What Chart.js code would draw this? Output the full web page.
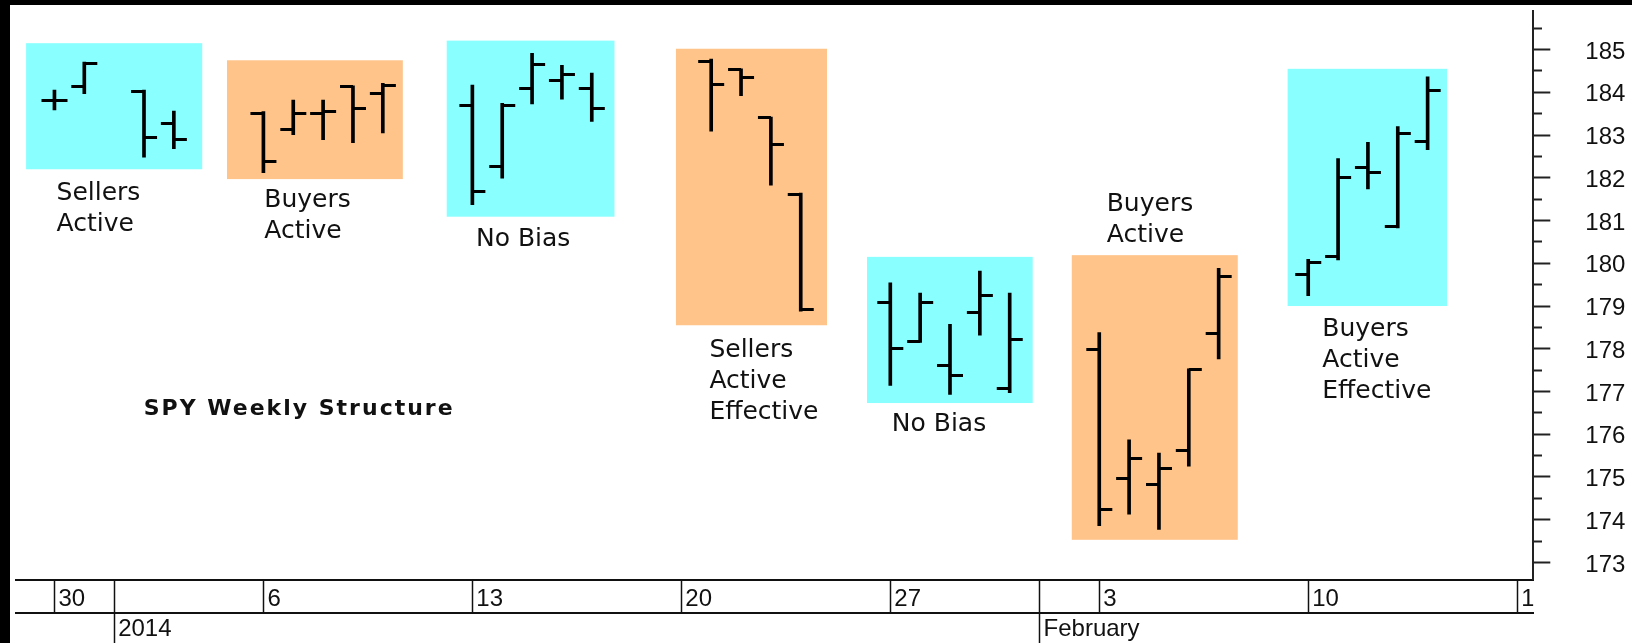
<!DOCTYPE html>
<html>
<head>
<meta charset="utf-8">
<title>SPY Weekly Structure</title>
<script src="https://cdn.jsdelivr.net/npm/chart.js@4.4.0/dist/chart.umd.min.js"></script>
<style>
  html, body { margin: 0; padding: 0; background: #fff; }
  #wrap { width: 1622px; height: 638px; border-top: 5px solid #000; border-left: 10px solid #000; }
  canvas { display: block; }
</style>
</head>
<body>
<div id="wrap"><canvas id="spyChart" width="1622" height="638"></canvas></div>
<script>
// SPY daily bars, 30 Dec 2013 - 14 Feb 2014
const dates = [
  '2013-12-30', '2013-12-31', '2014-01-02', '2014-01-03',
  '2014-01-06', '2014-01-07', '2014-01-08', '2014-01-09', '2014-01-10',
  '2014-01-13', '2014-01-14', '2014-01-15', '2014-01-16', '2014-01-17',
  '2014-01-21', '2014-01-22', '2014-01-23', '2014-01-24',
  '2014-01-27', '2014-01-28', '2014-01-29', '2014-01-30', '2014-01-31',
  '2014-02-03', '2014-02-04', '2014-02-05', '2014-02-06', '2014-02-07',
  '2014-02-10', '2014-02-11', '2014-02-12', '2014-02-13', '2014-02-14'
];
const opens = [
  183.82, 184.13, 184.03, 183.28,
  183.51, 183.12, 183.51, 184.13, 183.97,
  183.69, 182.27, 184.09, 184.28, 184.10,
  184.72, 184.53, 183.40, 181.60,
  179.09, 178.16, 177.61, 178.86, 177.07,
  177.98, 174.97, 174.83, 175.62, 178.35,
  179.74, 180.17, 182.24, 180.86, 182.84
];
const highs = [
  184.05, 184.71, 184.05, 183.56,
  183.55, 183.82, 183.82, 184.15, 184.21,
  184.17, 183.74, 184.91, 184.63, 184.45,
  184.78, 184.55, 183.42, 181.64,
  179.54, 179.30, 178.57, 179.82, 179.30,
  178.38, 175.87, 175.56, 177.53, 179.88,
  180.09, 182.45, 182.83, 183.20, 184.36
];
const lows = [
  183.59, 183.97, 182.48, 182.68,
  182.12, 183.01, 182.89, 182.82, 183.05,
  181.37, 181.99, 183.73, 183.84, 183.32,
  183.09, 183.92, 181.83, 178.88,
  177.14, 178.15, 176.93, 178.32, 176.97,
  173.86, 174.13, 173.77, 175.25, 177.76,
  179.24, 180.08, 181.74, 180.83, 182.66
];
const closes = [
  183.82, 184.67, 182.95, 182.89,
  182.39, 183.51, 183.55, 183.63, 184.17,
  181.68, 183.70, 184.65, 184.41, 183.63,
  184.19, 184.34, 182.79, 178.92,
  178.01, 179.09, 177.38, 179.24, 178.21,
  174.23, 175.43, 175.20, 177.51, 179.70,
  180.01, 182.01, 182.12, 183.03, 184.05
];

// date rows under the plot
const dayTickDates = ['2013-12-30', '2014-01-01', '2014-01-06', '2014-01-13', '2014-01-20',
  '2014-01-27', '2014-02-01', '2014-02-03', '2014-02-10', '2014-02-17'];
const dayTickLabels = ['30', '', '6', '13', '20', '27', '', '3', '10', '17'];
const monthTickDates = ['2014-01-01', '2014-02-01'];
const monthTickLabels = ['2014', 'February'];

// structure zones, in days from 30 Dec and in price
const zoneDays = [[-0.95, 4.95], [5.78, 11.67], [13.14, 18.76], [20.82, 25.88],
  [27.22, 32.77], [34.08, 39.64], [41.31, 46.65]];
const zonePrices = [[185.15, 182.20], [184.75, 181.97], [185.21, 181.09], [185.02, 178.55],
  [180.15, 176.73], [180.19, 173.53], [184.55, 179.00]];
const zoneKinds = ['cyan', 'orange', 'cyan', 'orange', 'cyan', 'orange', 'cyan'];
const zoneText = [['Sellers', 'Active'], ['Buyers', 'Active'], ['No Bias'],
  ['Sellers', 'Active', 'Effective'], ['No Bias'], ['Buyers', 'Active'],
  ['Buyers', 'Active', 'Effective']];
const zoneTextAt = [[0.07, 181.47], [7.03, 181.31], [14.12, 180.40], [21.94, 177.80],
  [28.05, 176.08], [35.25, 181.23], [42.47, 178.30]];
const title = 'SPY Weekly Structure';
const titleAt = [2.99, 176.46];

const zoneColors = { cyan: '#8affff', orange: '#ffc48a' };
const axisFont = { family: '"Liberation Sans", Arial, sans-serif', size: 24 };

const day0 = Date.UTC(2013, 11, 30);
function dayNum(s) {
  const p = s.split('-');
  return (Date.UTC(+p[0], p[1] - 1, +p[2]) - day0) / 86400000;
}

// open/close ticks as point images: left half or right half
function tickMark(side) {
  const c = document.createElement('canvas');
  c.width = 28;
  c.height = 3;
  const g = c.getContext('2d');
  g.fillStyle = '#000';
  g.fillRect(side === 'left' ? 1 : 14, 0, 13, 3);
  return c;
}

function clipLabels(scale) {
  if (scale._clipped) return;
  const draw = scale.drawLabels;
  scale.drawLabels = function (area) {
    const c = this.ctx;
    c.save();
    c.beginPath();
    c.rect(this.left, this.top, this.right - this.left, this.bottom - this.top);
    c.clip();
    draw.call(this, area);
    c.restore();
  };
  scale._clipped = true;
}

const zonePlugin = {
  id: 'zones',
  beforeDatasetsDraw(chart) {
    const { ctx, scales: { x, y } } = chart;
    ctx.save();
    zoneDays.forEach((d, i) => {
      const x0 = x.getPixelForValue(d[0]);
      const x1 = x.getPixelForValue(d[1]);
      const y0 = y.getPixelForValue(zonePrices[i][0]);
      const y1 = y.getPixelForValue(zonePrices[i][1]);
      ctx.fillStyle = zoneColors[zoneKinds[i]];
      ctx.fillRect(x0, y0, x1 - x0, y1 - y0);
    });
    ctx.fillStyle = '#111';
    ctx.textAlign = 'left';
    ctx.textBaseline = 'alphabetic';
    ctx.font = '25px "DejaVu Sans"';
    zoneText.forEach((lines, i) => {
      const tx = x.getPixelForValue(zoneTextAt[i][0]);
      const ty = y.getPixelForValue(zoneTextAt[i][1]);
      lines.forEach((s, j) => ctx.fillText(s, tx, ty + j * 31));
    });
    ctx.font = 'bold 22px "DejaVu Sans"';
    ctx.letterSpacing = '2px';
    ctx.fillText(title, x.getPixelForValue(titleAt[0]), y.getPixelForValue(titleAt[1]));
    ctx.letterSpacing = '0px';
    ctx.restore();
  }
};

const xMin = -1.288, xMax = 49.54;

new Chart(document.getElementById('spyChart'), {
  type: 'bar',
  data: {
    datasets: [
      {
        type: 'bar',
        data: dates.map((d, i) => ({ x: dayNum(d), y: [lows[i], highs[i]] })),
        backgroundColor: '#000',
        borderWidth: 0,
        barThickness: 3
      },
      {
        type: 'scatter',
        data: dates.map((d, i) => ({ x: dayNum(d), y: opens[i] })),
        pointStyle: tickMark('left'),
        pointRadius: 5
      },
      {
        type: 'scatter',
        data: dates.map((d, i) => ({ x: dayNum(d), y: closes[i] })),
        pointStyle: tickMark('right'),
        pointRadius: 5
      }
    ]
  },
  options: {
    responsive: false,
    animation: false,
    events: [],
    layout: { padding: 0 },
    plugins: { legend: { display: false }, tooltip: { enabled: false } },
    scales: {
      x: {
        type: 'linear',
        position: 'bottom',
        min: xMin,
        max: xMax,
        offset: false,
        afterBuildTicks: s => { s.ticks = dayTickDates.map(d => ({ value: dayNum(d) })); },
        afterFit: s => { s.height = 33; s.paddingLeft = 0; s.paddingRight = 0; },
        afterUpdate: clipLabels,
        grid: { offset: false, drawOnChartArea: false, tickLength: 33, tickColor: '#111', tickWidth: 1.5 },
        border: { color: '#111', width: 2 },
        ticks: {
          autoSkip: false, maxRotation: 0, align: 'start', labelOffset: 4, padding: -28,
          color: '#111', font: axisFont,
          callback: (v, i) => dayTickLabels[i]
        }
      },
      x2: {
        type: 'linear',
        axis: 'x',
        position: 'bottom',
        min: xMin,
        max: xMax,
        offset: false,
        afterBuildTicks: s => { s.ticks = monthTickDates.map(d => ({ value: dayNum(d) })); },
        afterFit: s => { s.height = 30.5; s.paddingLeft = 0; s.paddingRight = 0; },
        grid: { offset: false, drawOnChartArea: false, tickLength: 31, tickColor: '#111', tickWidth: 1.5 },
        border: { color: '#111', width: 2 },
        ticks: {
          autoSkip: false, maxRotation: 0, align: 'start', labelOffset: 4, padding: -29,
          color: '#111', font: axisFont,
          callback: (v, i) => monthTickLabels[i]
        }
      },
      y: {
        type: 'linear',
        position: 'right',
        min: 172.601,
        max: 185.903,
        beginAtZero: false,
        afterFit: s => { s.width = 98.7; s.paddingTop = 0; s.paddingBottom = 0; },
        grid: {
          drawOnChartArea: false, tickLength: 17, tickColor: '#222', tickWidth: 2,
          tickBorderDash: c => (c.tick && c.tick.value % 1) ? [8, 40] : []
        },
        border: { color: '#222', width: 2 },
        ticks: {
          stepSize: 0.5, includeBounds: false, autoSkip: false, maxTicksLimit: 100,
          padding: 35, labelOffset: 2.5, color: '#111', font: axisFont,
          callback: v => (v % 1 === 0 ? String(v) : '')
        }
      }
    }
  },
  plugins: [zonePlugin]
});
</script>
</body>
</html>
